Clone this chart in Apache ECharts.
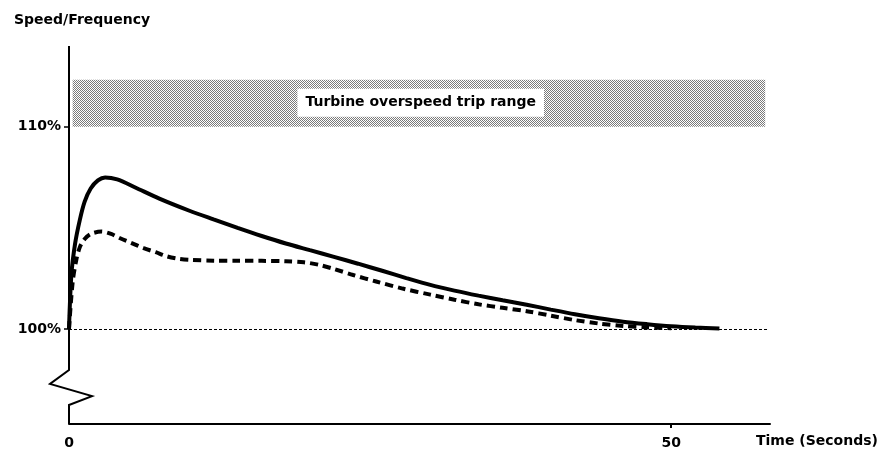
<!DOCTYPE html>
<html>
<head>
<meta charset="utf-8">
<script src="https://cdn.jsdelivr.net/npm/echarts@6/dist/echarts.min.js"></script>
<style>
  html, body { margin: 0; padding: 0; background: #fff; }
  #chart { width: 883px; height: 452px; }
</style>
</head>
<body>
<div id="chart"></div>
<script>
// time in seconds, speed in percent
const solidTime = [0, 0.2, 0.5, 0.9, 1.3, 1.8, 2.4, 3.0, 4, 5.5, 7.5, 10, 12, 14, 16, 18, 20, 22, 24, 26, 28, 30, 32, 34, 36, 38, 40, 42, 44, 46, 48, 50, 52, 54];
const solidSpeed = [100, 102.7, 104.2, 105.4, 106.3, 106.95, 107.35, 107.5, 107.4, 107.0, 106.45, 105.85, 105.42, 105.0, 104.6, 104.23, 103.9, 103.57, 103.23, 102.88, 102.52, 102.18, 101.9, 101.65, 101.42, 101.2, 100.96, 100.73, 100.53, 100.36, 100.24, 100.14, 100.07, 100.02];

const dashTime = [0, 0.3, 0.6, 0.9, 1.3, 1.8, 2.7, 3.5, 4.2, 5.2, 6.2, 7.2, 8.1, 9, 10, 12, 14, 16, 18, 19.5, 20.8, 22, 23.6, 25.5, 27.7, 30, 32, 34, 36, 38, 40, 42, 44, 46, 48, 50];
const dashSpeed = [100, 102.3, 103.4, 104.05, 104.45, 104.7, 104.82, 104.7, 104.5, 104.25, 104.0, 103.8, 103.6, 103.48, 103.42, 103.38, 103.37, 103.37, 103.35, 103.3, 103.17, 102.97, 102.67, 102.35, 102.0, 101.7, 101.45, 101.22, 101.05, 100.88, 100.66, 100.44, 100.27, 100.15, 100.08, 100.04];

const tripRange = [110, 112.33];
const yTicks = [100, 110];
const xTicks = [0, 50];
const xMax = 58.2;
const yMin = 95.3;
const yMax = 114;

const font = 'DejaVu Sans';

// halftone-ish fill for the trip band
const pat = document.createElement('canvas');
pat.width = 2; pat.height = 2;
const pctx = pat.getContext('2d');
pctx.fillStyle = '#fff';
pctx.fillRect(0, 0, 2, 2);
pctx.fillStyle = '#7a7a7a';
pctx.fillRect(0, 0, 1, 1);
pctx.fillRect(1, 1, 1, 1);

const chart = echarts.init(document.getElementById('chart'));

const option = {
  animation: false,
  backgroundColor: '#fff',
  grid: { left: 69, right: 113, top: 46, bottom: 28 },
  xAxis: {
    type: 'value',
    min: 0,
    max: xMax,
    axisLine: { show: true, lineStyle: { color: '#000', width: 2 } },
    axisTick: { show: true, customValues: [50], length: 4, lineStyle: { color: '#000', width: 2 } },
    axisLabel: { customValues: xTicks, color: '#000', fontFamily: font, fontWeight: 'bold', fontSize: 14, margin: 12 },
    splitLine: { show: false }
  },
  yAxis: {
    type: 'value',
    min: yMin,
    max: yMax,
    axisLine: { show: false },
    axisTick: { show: true, customValues: yTicks, length: 5, lineStyle: { color: '#000', width: 1.5 } },
    axisLabel: {
      customValues: yTicks,
      color: '#000', fontFamily: font, fontWeight: 'bold', fontSize: 14, margin: 8,
      formatter: v => v + '%'
    },
    splitLine: { show: false }
  },
  series: [
    {
      name: 'solid',
      type: 'line',
      data: solidTime.map((t, i) => [t, solidSpeed[i]]),
      smooth: 0.3,
      showSymbol: false,
      lineStyle: { color: '#000', width: 4 },
      z: 5,
      markArea: {
        silent: true,
        itemStyle: { color: { image: pat, repeat: 'repeat' } },
        data: [[{ coord: [0.3, tripRange[0]] }, { coord: [57.8, tripRange[1]] }]]
      },
      markLine: {
        silent: true,
        symbol: 'none',
        label: { show: false },
        lineStyle: { color: '#000', width: 1, type: [3, 2] },
        data: [[{ coord: [0, 100] }, { coord: [58, 100] }]]
      }
    },
    {
      name: 'dashed',
      type: 'line',
      data: dashTime.map((t, i) => [t, dashSpeed[i]]),
      smooth: 0.3,
      showSymbol: false,
      lineStyle: { color: '#000', width: 4, type: [8, 5] },
      z: 4
    }
  ]
};
chart.setOption(option);

// y axis line with break, plus labels
const px = (x, y) => chart.convertToPixel({ gridIndex: 0 }, [x, y]);
const axTop = px(0, yMax), b1 = px(0, 97.97), b2 = px(0, 97.28), b3 = px(0, 96.68), b4 = px(0, 96.24), axBot = px(0, yMin);
const boxC = px(29.2, 111.19);

chart.setOption({
  graphic: [
    {
      type: 'polyline',
      shape: {
        points: [
          [axTop[0], axTop[1]], [b1[0], b1[1]], [b2[0] - 19, b2[1]],
          [b3[0] + 23, b3[1]], [b4[0], b4[1]], [axBot[0], axBot[1]]
        ]
      },
      style: { stroke: '#000', lineWidth: 2, fill: null },
      z: 10
    },
    {
      type: 'text',
      left: 14, top: 13,
      style: { text: 'Speed/Frequency', fill: '#000', font: 'bold 14px "DejaVu Sans"' }
    },
    {
      type: 'text',
      left: 756, top: 434,
      style: { text: 'Time (Seconds)', fill: '#000', font: 'bold 14px "DejaVu Sans"' }
    },
    {
      type: 'text',
      x: boxC[0], y: boxC[1],
      style: {
        text: 'Turbine overspeed trip range',
        fill: '#000',
        font: 'bold 14px "DejaVu Sans"',
        align: 'center',
        verticalAlign: 'middle',
        backgroundColor: '#fff',
        padding: [7, 8, 7, 8]
      },
      z: 20
    }
  ]
});
</script>
</body>
</html>
